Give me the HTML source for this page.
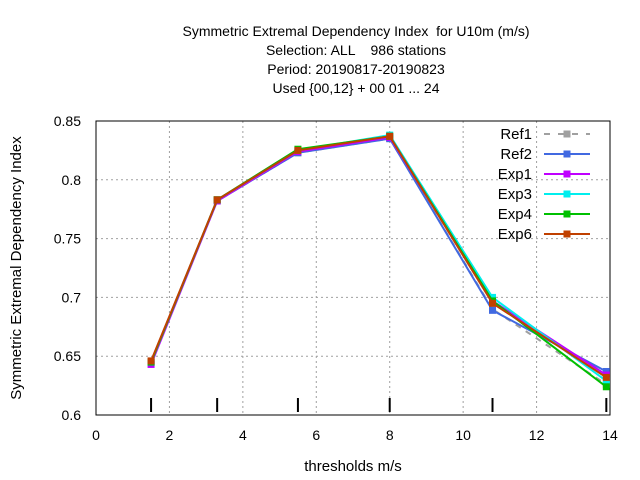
<!DOCTYPE html>
<html><head><meta charset="utf-8"><style>
body{margin:0;background:#fff}
svg{display:block;font-family:"Liberation Sans",sans-serif}
text{white-space:pre}
</style></head><body>
<svg id="chart" width="640" height="480" viewBox="0 0 640 480" xmlns="http://www.w3.org/2000/svg" xml:space="preserve">
<g font-size="14" text-anchor="middle" fill="#000">
<text x="356" y="36">Symmetric Extremal Dependency Index  for U10m (m/s)</text>
<text x="356" y="55">Selection: ALL    986 stations</text>
<text x="356" y="74">Period: 20190817-20190823</text>
<text x="356" y="93">Used {00,12} + 00 01 ... 24</text>
</g>
<g id="grid"></g>
<g id="axes"></g>
<g id="series"></g>
<g id="legend"></g>
<text x="353" y="471" font-size="15" text-anchor="middle">thresholds m/s</text>
<text transform="translate(21,268) rotate(-90)" font-size="15" text-anchor="middle">Symmetric Extremal Dependency Index</text>
</svg>
<script>
const thresholds=[1.5,3.3,5.5,8,10.8,13.9];
const ref1=[0.645,0.782,0.823,0.835,0.690,0.626];
const ref2=[0.645,0.782,0.823,0.835,0.689,0.637];
const exp1=[0.643,0.782,0.824,0.836,0.697,0.634];
const exp3=[0.645,0.783,0.825,0.838,0.700,0.629];
const exp4=[0.645,0.783,0.826,0.837,0.697,0.624];
const exp6=[0.646,0.783,0.825,0.837,0.695,0.632];
const xTicks=[0,2,4,6,8,10,12,14];
const yTicks=[0.6,0.65,0.7,0.75,0.8,0.85];
const seriesNames=["Ref1","Ref2","Exp1","Exp3","Exp4","Exp6"];
const seriesVals=[ref1,ref2,exp1,exp3,exp4,exp6];
const colors=["#a0a0a0","#4169e1","#c000ff","#00eeee","#00c000","#c04000"];
const L=96,R=610,T=121,B=415;
const xs=v=>L+(v-0)/(14-0)*(R-L);
const ys=v=>B-(v-0.6)/(0.85-0.6)*(B-T);
const NS="http://www.w3.org/2000/svg";
function mk(tag,attrs,parent){const e=document.createElementNS(NS,tag);for(const k in attrs)e.setAttribute(k,attrs[k]);parent.appendChild(e);return e;}
const grid=document.getElementById('grid'),axes=document.getElementById('axes'),ser=document.getElementById('series'),leg=document.getElementById('legend');
xTicks.forEach(t=>{
  const x=xs(t);
  if(t>0&&t<14){const g=mk('line',{x1:x,x2:x,y1:T,y2:B,stroke:'#a0a0a0','stroke-width':1,'stroke-dasharray':'2,3'},grid);
  
  }
  const tx=mk('text',{x:x,y:B+25,'font-size':14,'text-anchor':'middle'},axes);tx.textContent=t;
  
  
});
yTicks.forEach(t=>{
  const y=ys(t);
  if(t>0.6&&t<0.85){const g=mk('line',{x1:L,x2:R,y1:y,y2:y,stroke:'#a0a0a0','stroke-width':1,'stroke-dasharray':'2,3'},grid);
  
  }
  const tx=mk('text',{x:L-15,y:y+5,'font-size':14,'text-anchor':'end'},axes);tx.textContent=String(t);
  
  
});
const fr=mk('rect',{x:L,y:T,width:R-L,height:B-T,fill:'none',stroke:'#000','stroke-width':1},axes);


thresholds.forEach(t=>{
  const m=mk('line',{x1:xs(t),x2:xs(t),y1:B-17,y2:B-3,stroke:'#000','stroke-width':2},axes);
  
  
});
seriesVals.forEach((vals,i)=>{
  const g=mk('g',{},ser);
  
  
  const pts=vals.map((v,j)=>xs(thresholds[j])+','+ys(v)).join(' ');
  const attrs={points:pts,fill:'none',stroke:colors[i],'stroke-width':2};
  if(i===0)attrs['stroke-dasharray']='6,6';
  mk('polyline',attrs,g);
  vals.forEach((v,j)=>{
    const p=mk('rect',{x:xs(thresholds[j])-3.5,y:ys(v)-3.5,width:7,height:7,fill:colors[i]},g);
    
    
  });
  const y=134+i*20;
  const le=mk('g',{},leg);
  
  
  const tx=mk('text',{x:532,y:y+5,'font-size':15,'text-anchor':'end'},le);tx.textContent=seriesNames[i];
  const la={x1:544,x2:590,y1:y,y2:y,stroke:colors[i],'stroke-width':2};
  if(i===0)la['stroke-dasharray']='6,8';
  mk('line',la,le);
  mk('rect',{x:563.5,y:y-3.5,width:7,height:7,fill:colors[i]},le);
});
</script>
</body></html>
